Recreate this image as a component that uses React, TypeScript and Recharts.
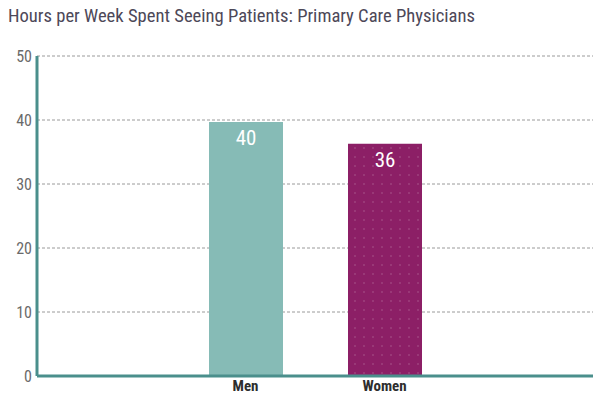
import React from 'react';
import { BarChart, Bar, XAxis, YAxis, CartesianGrid, Cell, LabelList } from 'recharts';

const titleText = 'Hours per Week Spent Seeing Patients: Primary Care Physicians';
const categories = ['', 'Men', 'Women', ''];
const hours: (number | null)[] = [null, 39.7, 36.3, null];
const valueLabels = ['', '40', '36', ''];
const yTicks = [0, 10, 20, 30, 40, 50];
const barFills = ['none', '#86bbb6', 'url(#dots)', 'none'];

const data = categories.map((c, i) => ({ name: c, hours: hours[i], label: valueLabels[i] }));

const FONT = '"Roboto Condensed", "Liberation Sans Narrow", "DejaVu Sans Condensed", Roboto, sans-serif';

const ValueLabel = (props: any) => {
  const { x, y, width, value } = props;
  if (!value) return null;
  return (
    <text x={x + width / 2} y={y + 23} textAnchor="middle" fill="#ffffff" fontSize={21} fontFamily={FONT}>
      {value}
    </text>
  );
};

export default function App() {
  return (
    <div style={{ position: 'absolute', left: 0, top: 0, width: 615, height: 399, background: '#fff' }}>
      <svg width={615} height={40} style={{ position: 'absolute', left: 0, top: 0 }}>
        <text x={8} y={22} fontSize={19} fill="#4d4858" fontFamily={FONT} textLength={467} lengthAdjust="spacingAndGlyphs">
          {titleText}
        </text>
      </svg>
      <div style={{ position: 'absolute', left: 0, top: 0 }}>
        <BarChart width={615} height={399} data={data} margin={{ top: 56, right: 22, left: 0, bottom: 0 }} barCategoryGap={32}>
          <defs>
            <pattern id="dots" width={9} height={9} patternUnits="userSpaceOnUse">
              <rect width={9} height={9} fill="#8c1f66" />
              <circle cx={4} cy={4} r={0.7} fill="rgba(255,255,255,0.3)" />
            </pattern>
          </defs>
          <CartesianGrid vertical={false} stroke="#9a9a9a" strokeDasharray="3 2" />
          <XAxis
            dataKey="name"
            height={23}
            axisLine={{ stroke: '#4a8f8c', strokeWidth: 3 }}
            tickLine={false}
            tickSize={0}
            tickMargin={4}
            tick={{ fill: '#2e2e2e', fontSize: 15, fontWeight: 'bold', fontFamily: FONT }}
            interval={0}
          />
          <YAxis
            width={37}
            domain={[0, 50]}
            ticks={yTicks}
            axisLine={{ stroke: '#4a8f8c', strokeWidth: 3 }}
            tickLine={false}
            tickSize={0}
            tickMargin={5}
            tick={{ fill: '#6a6a6a', fontSize: 16, fontFamily: FONT }}
          />
          <Bar dataKey="hours" barSize={74} isAnimationActive={false}>
            {data.map((d, i) => (
              <Cell key={i} fill={barFills[i]} />
            ))}
            <LabelList dataKey="label" content={ValueLabel} />
          </Bar>
        </BarChart>
      </div>
    </div>
  );
}
